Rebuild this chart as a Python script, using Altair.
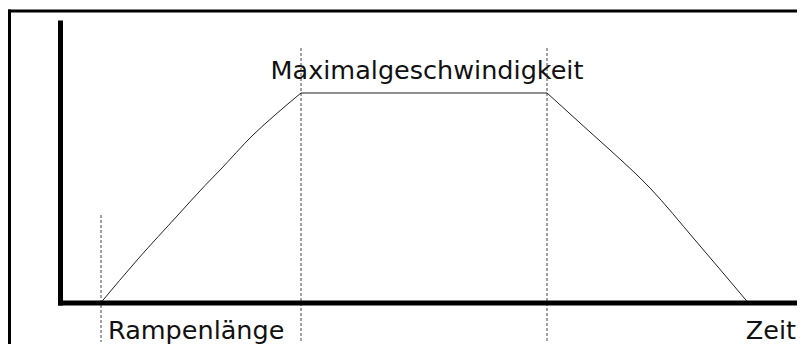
import altair as alt
import pandas as pd

# Speed profile (time units, speed normalised to the maximum)
ramp_time = [1.025, 1.95, 2.95, 3.625, 4.0, 4.825, 5.375, 6.025]
ramp_speed = [0.0, 0.2076, 0.4177, 0.5585, 0.632, 0.7995, 0.895, 1.0]
brake_time = [12.175, 13.25, 13.75, 14.75, 15.875, 17.2]
brake_speed = [1.0, 0.8138, 0.728, 0.5465, 0.2983, 0.0]

label_max = "Maximalgeschwindigkeit"
label_ramp = "Rampenlänge"
label_time = "Zeit"

t_max = 18.425
v_max_axis = 1.3365

profile = pd.DataFrame({
    "t": ramp_time + [ramp_time[-1], brake_time[0]] + brake_time,
    "v": ramp_speed + [ramp_speed[-1], brake_speed[0]] + brake_speed,
    "phase": ["rise"] * len(ramp_time) + ["max"] * 2 + ["brake"] * len(brake_time),
})
low_marker = pd.DataFrame({"t": [ramp_time[0]]})
high_markers = pd.DataFrame({"t": [ramp_time[-1], brake_time[0]]})

xs = alt.Scale(domain=[0, t_max], nice=False, zero=False)
ys = alt.Scale(domain=[0, v_max_axis], nice=False, zero=False)
xa = alt.Axis(title=None, labels=False, ticks=False, grid=False, domainColor="black",
              domainWidth=5, domainCap="square", zindex=1)
ya = alt.Axis(title=None, labels=False, ticks=False, grid=False, domainColor="black",
              domainWidth=5, domainCap="square", zindex=1)

FONT = "DejaVu Sans"
FS = 25.5

curve = alt.Chart(profile).mark_line(color="#222", strokeWidth=1, interpolate="monotone").encode(
    x=alt.X("t:Q", scale=xs, axis=xa),
    y=alt.Y("v:Q", scale=ys, axis=ya),
    detail="phase:N",
)

dash_low = alt.Chart(low_marker).mark_rule(color="#444", strokeDash=[3, 2], strokeWidth=1).encode(
    x=alt.X("t:Q", scale=xs, axis=xa),
    y=alt.value(192.5),
    y2=alt.value(319.5),
)

dash_high = alt.Chart(high_markers).mark_rule(color="#444", strokeDash=[3, 2], strokeWidth=1).encode(
    x=alt.X("t:Q", scale=xs, axis=xa),
    y=alt.value(25.5),
    y2=alt.value(319.5),
)

one = alt.Data(values=[{}])

txt_max = alt.Chart(one).mark_text(
    text=label_max, font=FONT, fontSize=FS, color="#111", align="center",
    baseline="alphabetic", dx=3, dy=-14,
).encode(
    x=alt.X(datum=(ramp_time[-1] + brake_time[0]) / 2, scale=xs, axis=xa),
    y=alt.Y(datum=1.0, scale=ys, axis=ya),
)

txt_ramp = alt.Chart(one).mark_text(
    text=label_ramp, font=FONT, fontSize=FS, color="#111", align="left",
    baseline="alphabetic", dx=7, dy=36.5,
).encode(
    x=alt.X(datum=ramp_time[0], scale=xs, axis=xa),
    y=alt.Y(datum=0.0, scale=ys, axis=ya),
)

txt_time = alt.Chart(one).mark_text(
    text=label_time, font=FONT, fontSize=FS, color="#111", align="right",
    baseline="alphabetic", dx=-1, dy=36.5,
).encode(
    x=alt.X(datum=t_max, scale=xs, axis=xa),
    y=alt.Y(datum=0.0, scale=ys, axis=ya),
)

border_left = alt.Chart(one).mark_rule(color="black", strokeWidth=3).encode(
    x=alt.value(-50.5), y=alt.value(-13), y2=alt.value(330),
)
border_top = alt.Chart(one).mark_rule(color="black", strokeWidth=3).encode(
    y=alt.value(-11.5), x=alt.value(-52), x2=alt.value(737),
)

chart = alt.layer(
    border_left, border_top, dash_low, dash_high, curve, txt_max, txt_ramp, txt_time
).properties(
    width=737,
    height=280,
    autosize=alt.AutoSizeParams(type="none"),
    padding={"left": 52, "top": 14.5, "right": 0, "bottom": 41.5},
    background="white",
).configure_view(stroke=None)

chart.save("out.html", embed_options={"renderer": "svg", "actions": False})
